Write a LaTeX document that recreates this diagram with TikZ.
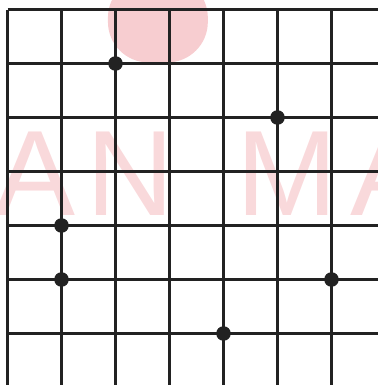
\documentclass[tikz,border=0pt]{standalone}
\usepackage{fontspec}
\newfontfamily\wmfont{Liberation Sans}
\usepackage{tikz}
\usetikzlibrary{positioning}

\definecolor{gridline}{RGB}{34,34,34}
\definecolor{wmpink}{RGB}{246,196,200}

\begin{document}
\begin{tikzpicture}[line width=1.5pt,
 dot/.style={circle,fill=gridline,inner sep=0pt,minimum size=0.27cm},
 wm/.style={text=wmpink!65,font=\wmfont\fontsize{64}{64}\selectfont,inner sep=0pt}]
\useasboundingbox (-0.139,0.176) rectangle (6.861,-6.954);
\clip (-0.139,0.176) rectangle (6.861,-6.954);
% faint mark behind the grid
\fill[wmpink!85,rounded corners=0.75cm] (1.86,0.6) -- (1.86,-0.98) -- (3.71,-0.98) -- (3.71,0.6) -- cycle;
\node[wm] (wa) at (0.51,-3.05) {A};
\node[wm] (wn) at (2.27,-3.05) {N};
\node[wm] (wm) at (5.18,-3.05) {M};
\node[wm] (wb) at (7.1,-3.05) {A};
% grid
\foreach \i in {0,...,6}{
 \draw[gridline] (\i,0) -- (\i,-6.954);
 \draw[gridline] (0,-\i) -- (6.861,-\i);
}
% points
\node[dot] (p1) at (2,-1) {};
\node[dot] (p2) at (5,-2) {};
\node[dot] (p3) at (1,-4) {};
\node[dot] (p4) at (1,-5) {};
\node[dot] (p5) at (6,-5) {};
\node[dot] (p6) at (4,-6) {};
\end{tikzpicture}
\end{document}
